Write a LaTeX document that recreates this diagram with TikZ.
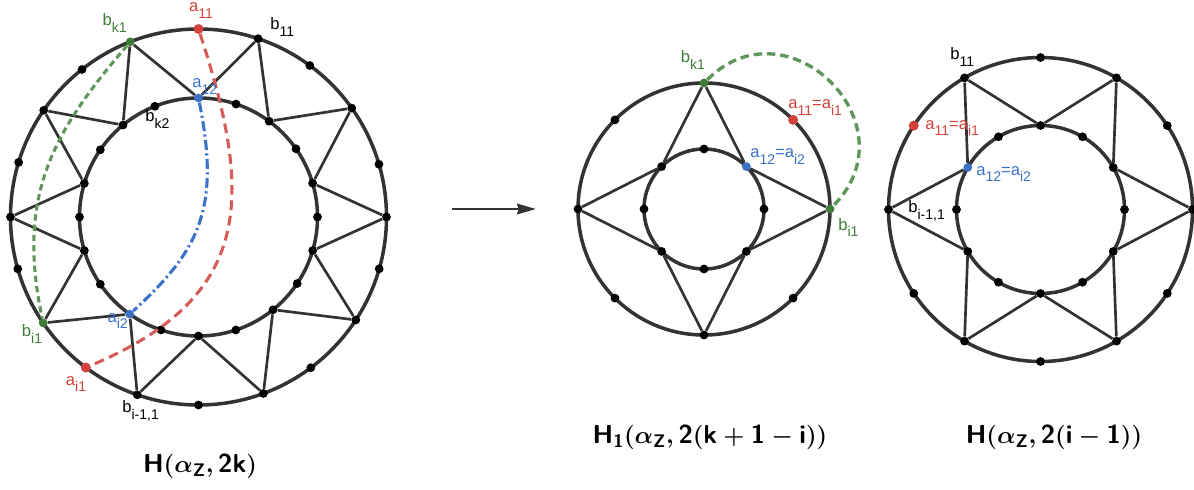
\documentclass[tikz,border=0pt]{standalone}
\usepackage{amsmath,amssymb}
\usepackage{fontspec}
\setmainfont{Liberation Sans}
\usetikzlibrary{arrows.meta}
\definecolor{ink}{HTML}{333333}
\definecolor{grn}{HTML}{3E7D38}
\definecolor{lgrn}{HTML}{5F975A}
\definecolor{rd}{HTML}{D2423B}
\definecolor{lrd}{HTML}{D65C57}
\definecolor{bl}{HTML}{3A72C8}
\newcommand{\lsub}[1]{\raisebox{-4.8pt}{\fontsize{10}{10}\selectfont #1}}

\begin{document}
\begin{tikzpicture}[x=0.025cm, y=0.025cm,
    ring/.style={line width=2.5pt, ink},
    edge/.style={line width=1.9pt, ink},
    dot/.style={circle, fill=black, inner sep=0pt, minimum size=0.22cm},
    cdot/.style={circle, fill=#1, inner sep=0pt, minimum size=0.25cm},
    lbl/.style={inner sep=0pt, font=\fontsize{11.8}{12}\selectfont},
    ttl/.style={inner sep=0pt, font=\fontsize{18.5}{20}\selectfont\boldmath}]
\useasboundingbox (0,0) rectangle (1194,489);

% H(alpha_Z, 2k)
\begin{scope}[shift={(198.5,272)}]
    \draw[ring] (0,0) circle[radius=188] (0,0) circle[radius=119];
    \foreach \a/\c [count=\k from 0] in {0/black,35.4/black,71.5/black,111.3/grn,145.4/black,
                                         180/black,214.3/grn,251/black,290.2/black,326.8/black}
        \node[dot, fill=\c] (lo\k) at (\a:188) {};
    \foreach \a/\c [count=\k from 0] in {16.5/black,53.6/black,90/bl,129.4/black,163.6/black,
                                         196.4/black,234.7/bl,270/black,308.8/black,343.6/black}
        \node[dot, fill=\c] (li\k) at (\a:119) {};
    \foreach \a in {16.3,53.7,128.3,163.1,196,270,306.7,344}
        \node[dot] at (\a:188) {};
    \foreach \a in {0,35,71.6,111.5,145.6,180,214.4,251.6,288.3,326}
        \node[dot] at (\a:119) {};
    \node[cdot=rd] (la11) at (90:188) {};
    \node[cdot=rd] (lai1) at (233.2:188) {};
    \foreach \k in {0,...,9} {
        \pgfmathtruncatemacro{\j}{mod(\k+9,10)}
        \draw[edge] (lo\k) -- (li\k) (lo\k) -- (li\j);
    }
    \draw[lgrn, line width=2.2pt, dash pattern=on 4.5pt off 2.8pt]
        (lo3) .. controls +(-78,-91) and +(-27,127) .. (lo6);
    \draw[lrd, line width=2.2pt, dash pattern=on 7pt off 4pt]
        (la11) .. controls +(56,-171) and +(166,70) .. (lai1);
    \draw[bl, line width=2.2pt, dash pattern=on 7pt off 2.5pt on 1.5pt off 2.5pt]
        (li2) .. controls +(22,-110) and +(70,64) .. (li6);
\end{scope}
\node[lbl, rd] at (201,478.5) {a\lsub{11}};
\node[lbl, anchor=west] at (270,462) {b\lsub{11}};
\node[lbl, grn, anchor=east] at (127,466) {b\lsub{k1}};
\node[lbl, bl, anchor=west] at (192,402.5) {a\lsub{12}};
\node[lbl, anchor=west] at (145,370) {b\lsub{k2}};
\node[lbl, grn] at (32,155) {b\lsub{i1}};
\node[lbl, bl, anchor=east] at (128,168) {a\lsub{i2}};
\node[lbl, rd] at (76,105) {a\lsub{i1}};
\node[lbl, anchor=west] at (122,78) {b\lsub{i-1,1}};
\node[ttl] (t1) at (200,23) {$\mathsf{H(\alpha_Z, 2k)}$};

% arrow
\coordinate (as) at (452,280);
\coordinate (ae) at (536,280);
\draw[ink, line width=2.1pt, -{Stealth[length=0.47cm, width=0.26cm, inset=0.04cm]}] (as) -- (ae);

% H_1(alpha_Z, 2(k+1-i))
\begin{scope}[shift={(704,280)}]
    \draw[ring] (0,0) circle[radius=126] (0,0) circle[radius=60];
    \foreach \a/\c [count=\k from 0] in {0/grn,90/grn,180/black,270/black}
        \node[dot, fill=\c] (mo\k) at (\a:126) {};
    \foreach \a/\c [count=\k from 0] in {45/bl,135/black,225/black,315/black}
        \node[dot, fill=\c] (mi\k) at (\a:60) {};
    \foreach \a in {135,225,315}
        \node[dot] at (\a:126) {};
    \foreach \a in {0,90,180,270}
        \node[dot] at (\a:60) {};
    \node[cdot=rd] (ma11) at (45:126) {};
    \foreach \k in {0,...,3} {
        \pgfmathtruncatemacro{\j}{mod(\k+3,4)}
        \draw[edge] (mo\k) -- (mi\k) (mo\k) -- (mi\j);
    }
    \draw[lgrn, line width=2.4pt, dash pattern=on 6pt off 3.5pt]
        (mo1) .. controls +(84,84) and +(84,84) .. (mo0);
\end{scope}
\node[lbl, grn] at (693,429) {b\lsub{k1}};
\node[lbl, rd, anchor=west] at (788,381.5) {a\lsub{11}=a\lsub{i1}};
\node[lbl, bl, anchor=west] at (750,332.5) {a\lsub{12}=a\lsub{i2}};
\node[lbl, grn, anchor=west] at (838,261.5) {b\lsub{i1}};
\node[ttl] (t2) at (710,52) {$\mathsf{H_1(\alpha_Z, 2(k+1-i))}$};

% H(alpha_Z, 2(i-1))
\begin{scope}[shift={(1040.5,279.5)}]
    \draw[ring] (0,0) circle[radius=152] (0,0) circle[radius=84];
    \foreach \a [count=\k from 0] in {0,60,...,300}
        \node[dot] (ro\k) at (\a:152) {};
    \foreach \a/\c [count=\k from 0] in {30/black,90/black,150/bl,210/black,270/black,330/black}
        \node[dot, fill=\c] (ri\k) at (\a:84) {};
    \foreach \a in {33.5,90,213.5,270,326.5}
        \node[dot] at (\a:152) {};
    \foreach \a in {0,60,...,300}
        \node[dot] at (\a:84) {};
    \node[cdot=rd] (ra11) at (146.5:152) {};
    \foreach \k in {0,...,5} {
        \pgfmathtruncatemacro{\j}{mod(\k+5,6)}
        \draw[edge] (ro\k) -- (ri\k) (ro\k) -- (ri\j);
    }
\end{scope}
\node[lbl, anchor=west] at (950,432) {b\lsub{11}};
\node[lbl, rd, anchor=west] at (925,361) {a\lsub{11}=a\lsub{i1}};
\node[lbl, bl, anchor=west] at (976,315) {a\lsub{12}=a\lsub{i2}};
\node[lbl, anchor=west] at (908,278) {b\lsub{i-1,1}};
\node[ttl] (t3) at (1054,52) {$\mathsf{H(\alpha_Z, 2(i-1))}$};
\end{tikzpicture}
\end{document}
